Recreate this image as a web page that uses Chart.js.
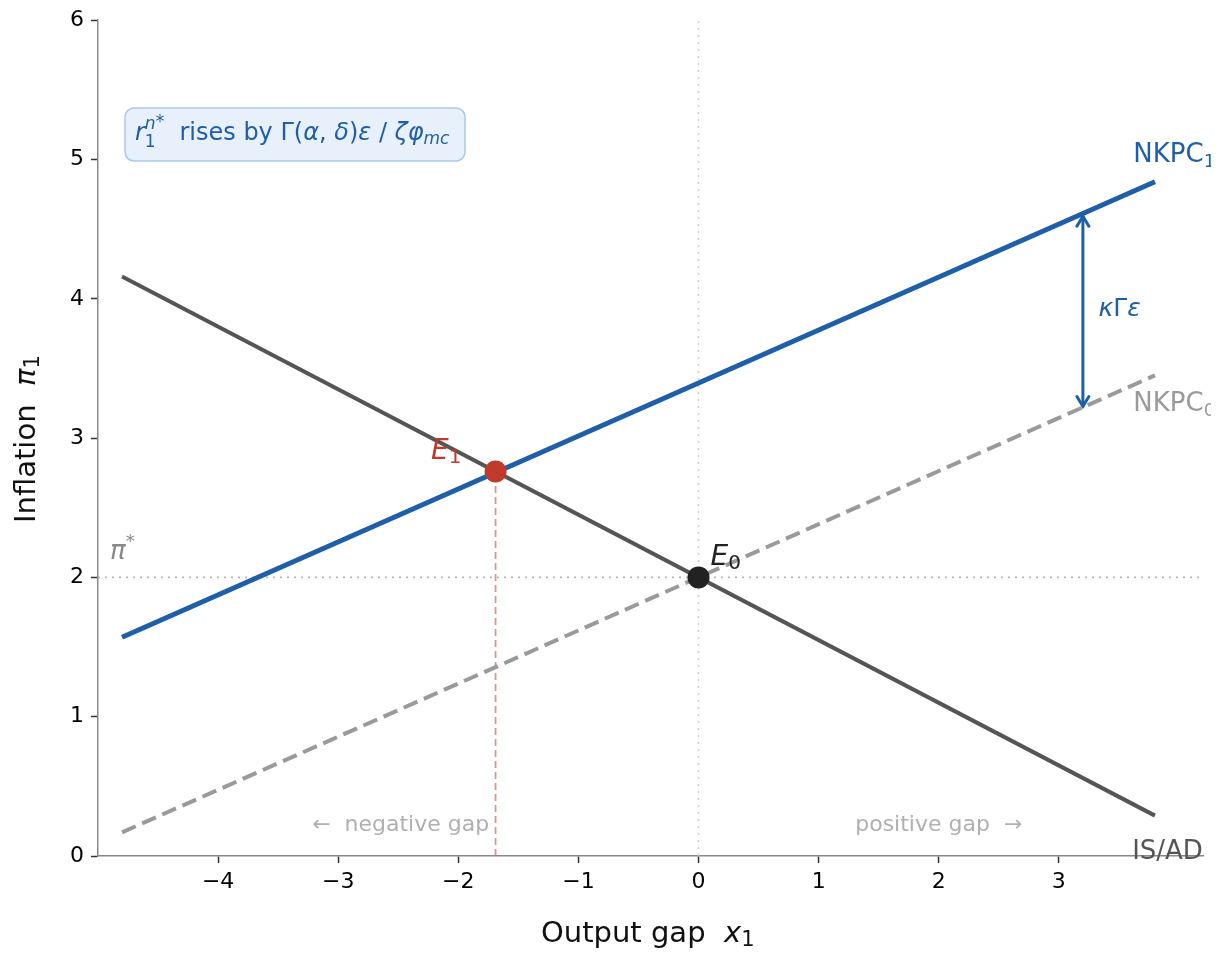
<!DOCTYPE html>
<html>
<head>
<meta charset="utf-8">
<script src="https://cdn.jsdelivr.net/npm/chart.js@4.4.1/dist/chart.umd.min.js"></script>
<style>
  html, body { margin: 0; padding: 0; background: #fff; }
  #wrap { width: 1226px; height: 954px; }
</style>
</head>
<body>
<div id="wrap"><canvas id="nk"></canvas></div>
<script>
// curve end points
var gapX = [-4.8, 3.8];
var isad = [4.16, 0.29];
var nkpc0 = [0.17, 3.45];
var nkpc1 = [1.57, 4.84];
var e0 = [0, 2];
var e1 = [-1.69, 2.76];
var piStar = 2;
var shiftAt = 3.2, shiftFrom = 4.6, shiftTo = 3.22;
var xTicks = [-4, -3, -2, -1, 0, 1, 2, 3];
var yTicks = [0, 1, 2, 3, 4, 5, 6];

var BLUE = '#1f5fa8', DARK = '#555555', GREY = '#9a9a9a', RED = '#c0392b';
var FONT = '"DejaVu Sans", sans-serif';

function pts(xs, ys) {
  return xs.map(function (x, i) { return { x: x, y: ys[i] }; });
}

function minus(v) { return v < 0 ? '\u2212' + Math.abs(v) : String(v); }

// draw a run of text pieces: [text, italic, size, dy, noAdvance]
function rich(ctx, x, y, parts, color) {
  ctx.fillStyle = color;
  ctx.textBaseline = 'middle';
  ctx.textAlign = 'left';
  parts.forEach(function (p) {
    ctx.font = (p[1] ? 'italic ' : '') + p[2] + 'px ' + FONT;
    ctx.fillText(p[0], x, y + (p[3] || 0));
    if (!p[4]) x += ctx.measureText(p[0]).width;
  });
  return x;
}

var extras = {
  id: 'extras',
  afterDatasetsDraw: function (chart) {
    var ctx = chart.ctx, xs = chart.scales.x, ys = chart.scales.y;
    var px = function (v) { return xs.getPixelForValue(v); };
    var py = function (v) { return ys.getPixelForValue(v); };
    ctx.save();

    // double arrow for the shift
    var ax = px(shiftAt), a1 = py(shiftFrom), a2 = py(shiftTo);
    ctx.strokeStyle = BLUE; ctx.lineWidth = 3; ctx.lineCap = 'round';
    ctx.beginPath(); ctx.moveTo(ax, a1 + 1); ctx.lineTo(ax, a2 - 1); ctx.stroke();
    ctx.beginPath();
    ctx.moveTo(ax - 6, a1 + 11); ctx.lineTo(ax, a1 + 1); ctx.lineTo(ax + 6, a1 + 11);
    ctx.moveTo(ax - 6, a2 - 11); ctx.lineTo(ax, a2 - 1); ctx.lineTo(ax + 6, a2 - 11);
    ctx.stroke();

    // curve labels (the original figure cuts them at its right edge)
    ctx.save();
    ctx.beginPath(); ctx.rect(0, 0, 1211, 954); ctx.clip();
    rich(ctx, px(3.62), py(5.03), [['NKPC', false, 26], ['1', false, 18, 7]], BLUE);
    rich(ctx, px(3.62), py(3.24), [['NKPC', false, 26], ['0', false, 18, 7]], GREY);
    rich(ctx, px(3.61), py(0.03), [['IS/AD', false, 26]], DARK);
    ctx.restore();
    rich(ctx, px(3.33), py(3.92), [['\u03ba', true, 25], ['\u0393', false, 25], ['\u03b5', true, 25]], BLUE);

    // equilibrium labels
    ctx.font = 'italic 28px ' + FONT;
    var w = ctx.measureText('E').width;
    rich(ctx, px(-1.98) - w - 12, py(2.9), [['E', true, 28], ['1', false, 20, 6]], RED);
    rich(ctx, px(0.1), py(2.14), [['E', true, 28], ['0', false, 20, 6]], '#222');
    rich(ctx, px(-4.9), py(2.18), [['\u03c0', true, 26], ['*', false, 18, -10]], '#888');

    // gap direction hints
    ctx.font = '22px ' + FONT; ctx.fillStyle = '#b0b0b0';
    ctx.textAlign = 'center'; ctx.textBaseline = 'middle';
    ctx.fillText('\u2190  negative gap', px(-2.48), py(0.22));
    ctx.fillText('positive gap  \u2192', px(2.0), py(0.22));

    // note box
    var bx = 125, by = 108, bw = 340, bh = 53, r = 9;
    ctx.beginPath();
    ctx.moveTo(bx + r, by); ctx.arcTo(bx + bw, by, bx + bw, by + bh, r);
    ctx.arcTo(bx + bw, by + bh, bx, by + bh, r); ctx.arcTo(bx, by + bh, bx, by, r);
    ctx.arcTo(bx, by, bx + bw, by, r); ctx.closePath();
    ctx.fillStyle = '#e8f0fb'; ctx.fill();
    ctx.strokeStyle = '#aac7ee'; ctx.lineWidth = 1.5; ctx.stroke();
    rich(ctx, 135, 134, [
      ['r', true, 24], ['n', true, 17, -9, true], ['1', false, 17, 9],
      ['*', false, 17, -11],
      ['  rises by \u0393(', false, 24], ['\u03b1', true, 24], [', ', false, 24],
      ['\u03b4', true, 24], [')', false, 24], ['\u03b5', true, 24],
      [' / ', false, 24], ['\u03b6\u03c6', true, 24], ['mc', true, 17, 6]
    ], BLUE);

    // axis titles
    rich(ctx, 541, 934, [['Output gap  ', false, 29], ['x', true, 29], ['1', false, 21, 7]], '#111');
    ctx.translate(27, 437); ctx.rotate(-Math.PI / 2);
    rich(ctx, -86, 0, [['Inflation  ', false, 29], ['\u03c0', true, 29], ['1', false, 21, 7]], '#111');
    ctx.restore();
  }
};

new Chart(document.getElementById('nk'), {
  type: 'scatter',
  data: {
    datasets: [
      { data: [{ x: e1[0], y: e1[1] }], backgroundColor: RED, borderWidth: 0, pointRadius: 11, order: 0 },
      { data: [{ x: e0[0], y: e0[1] }], backgroundColor: '#222', borderWidth: 0, pointRadius: 11, order: 1 },
      { type: 'line', data: pts(gapX, nkpc1), borderColor: BLUE, borderWidth: 5, pointRadius: 0, order: 2 },
      { type: 'line', data: pts(gapX, isad), borderColor: DARK, borderWidth: 4, pointRadius: 0, order: 3 },
      { type: 'line', data: pts(gapX, nkpc0), borderColor: GREY, borderWidth: 4, borderDash: [15, 7], pointRadius: 0, order: 4 },
      { type: 'line', data: pts([e1[0], e1[0]], [0, e1[1]]), borderColor: 'rgba(214,110,98,0.75)', borderWidth: 1.8, borderDash: [7, 4], pointRadius: 0, order: 5 },
      { type: 'line', data: pts([0, 0], [0, 6]), borderColor: '#cccccc', borderWidth: 1.5, borderDash: [2, 5], pointRadius: 0, order: 6 },
      { type: 'line', data: pts([-5, 4.2], [piStar, piStar]), borderColor: '#b5b5b5', borderWidth: 1.8, borderDash: [2, 5], pointRadius: 0, order: 7 }
    ]
  },
  options: {
    responsive: true,
    maintainAspectRatio: false,
    animation: false,
    events: [],
    layout: { padding: { top: 17, right: 23, left: 0, bottom: 0 } },
    plugins: { legend: { display: false }, tooltip: { enabled: false } },
    scales: {
      x: {
        type: 'linear', min: -5, max: 4.2,
        afterBuildTicks: function (s) { s.ticks = xTicks.map(function (v) { return { value: v }; }); },
        afterFit: function (s) { s.height = 98; },
        grid: { drawOnChartArea: false, drawTicks: true, tickLength: 7, tickColor: '#333', tickWidth: 1.5 },
        border: { color: '#888', width: 1.5 },
        ticks: { color: '#000', font: { family: FONT, size: 22 }, padding: 6, maxRotation: 0, callback: minus }
      },
      y: {
        type: 'linear', min: 0, max: 6,
        afterBuildTicks: function (s) { s.ticks = yTicks.map(function (v) { return { value: v }; }); },
        afterFit: function (s) { s.width = 98; },
        grid: { drawOnChartArea: false, drawTicks: true, tickLength: 7, tickColor: '#333', tickWidth: 1.5 },
        border: { color: '#888', width: 1.5 },
        ticks: { color: '#000', font: { family: FONT, size: 22 }, padding: 7, callback: minus }
      }
    }
  },
  plugins: [extras]
});
</script>
</body>
</html>
